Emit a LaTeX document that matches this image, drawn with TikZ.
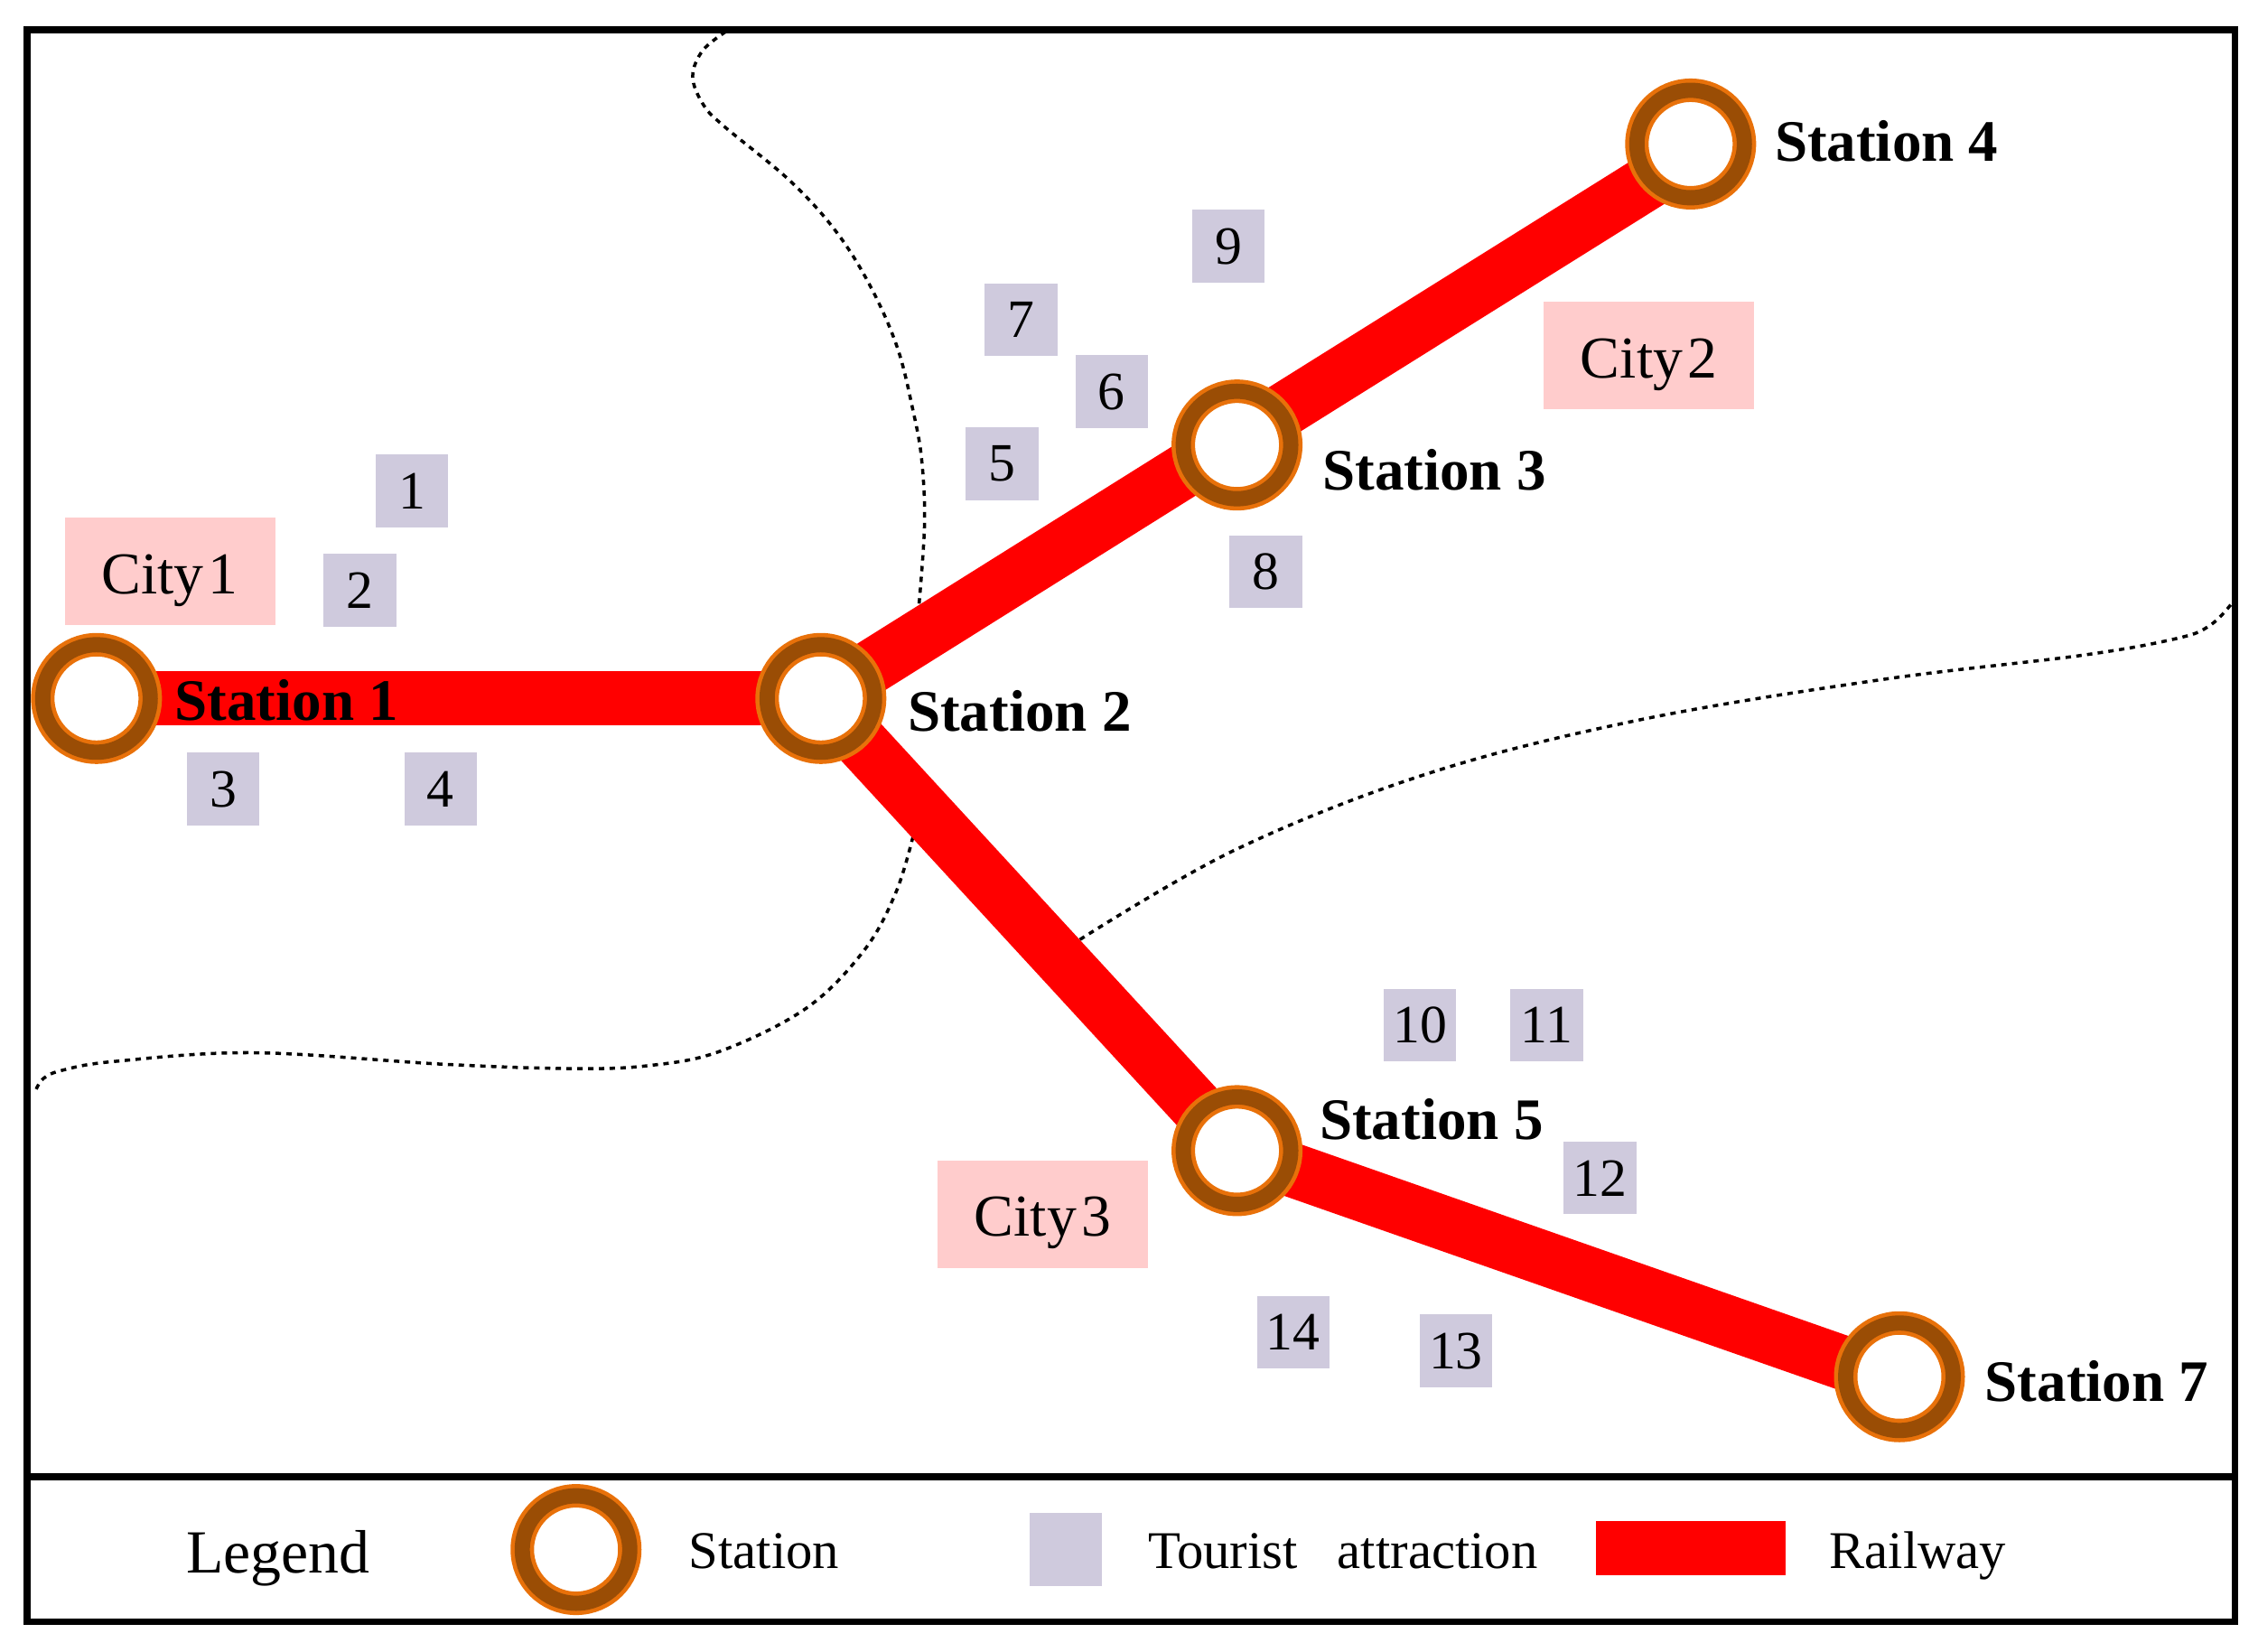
\documentclass[tikz,border=0pt]{standalone}
\usepackage{fontspec}
\setmainfont{Liberation Serif}
\usetikzlibrary{positioning, backgrounds}
\definecolor{ringbrown}{HTML}{9A4D05}
\definecolor{ringedge}{HTML}{E8710A}
\definecolor{attrfill}{HTML}{CFCADD}
\definecolor{citybg}{HTML}{FFCCCC}
\newcommand{\cityfont}{\fontsize{18.7}{20}\selectfont\spaceskip=1.5pt\relax}

\begin{document}
\begin{tikzpicture}[
  x=0.015944cm, y=-0.015944cm,
  ring/.style={circle, draw=ringedge, line width=1.3pt, double=ringbrown, double distance=4.8pt, fill=white, minimum size=1.19cm, inner sep=0pt},
  attr/.style={fill=attrfill, minimum size=0.805cm, inner sep=0pt, font=\fontsize{17}{17}\selectfont},
  city/.style={fill=citybg, minimum width=2.33cm, minimum height=1.19cm, inner sep=0pt, text height=14pt, text depth=0pt, font=\cityfont},
  stn/.style={anchor=west, inner sep=0pt, font=\fontsize{18.5}{20}\selectfont\bfseries},
  leg/.style={anchor=base west, inner sep=0pt, font=\fontsize{16.7}{18}\selectfont},
  rail/.style={draw=red, line width=0.6cm},
  bound/.style={line width=1pt, dash pattern=on 1.7pt off 1.7pt}
]
\useasboundingbox (0,0) rectangle (1568,1147);

% Stations
\node[ring] (s1) at (67,485) {};
\node[ring] (s2) at (570,485) {};
\node[ring] (s3) at (859,309) {};
\node[ring] (s4) at (1174,100) {};
\node[ring] (s5) at (859,799) {};
\node[ring] (s7) at (1319,956) {};

% Boundaries and railway
\begin{scope}[on background layer]
\draw[bound] plot[smooth, tension=0.6] coordinates {(504,22) (488,35) (481,53) (488,72) (502,87) (548,125) (580,160) (604,198) (623,241) (634,285) (640,319) (642,364) (638,422)};
\draw[bound] plot[smooth, tension=0.6] coordinates {(634,581) (622,620) (600,660) (560,700) (500,730) (450,740) (396,742) (308,739) (176,731) (80,737) (44,743) (30,749) (24,759)};
\draw[bound] plot[smooth, tension=0.6] coordinates {(1549,420) (1535,434) (1513,443) (1446,455) (1306,472) (1138,500) (992,537) (858,590) (749,653)};
\draw[rail] (s1.center) -- (s2.center);
\draw[rail] (s2.center) -- ([yshift=0.08cm]s3.center);
\draw[rail] ([yshift=0.064cm]s3.center) -- ([yshift=-0.128cm]s4.center);
\draw[rail] (s2.center) -- (s5.center);
\draw[rail] (s5.center) -- ([yshift=-0.064cm]s7.center);
\end{scope}

% Labels
\node[stn] (l1) at (121,486) {Station 1};
\node[stn] (l2) at (630,494) {Station 2};
\node[stn] (l3) at (918,326) {Station 3};
\node[stn] (l4) at (1232,98) {Station 4};
\node[stn] (l5) at (916,777) {Station 5};
\node[stn] (l7) at (1378,959) {Station 7};

% Cities
\node[city] (c1) at (118,397) {City 1};
\node[city] (c2) at (1145,247) {City 2};
\node[city] (c3) at (724,843) {City 3};

% Tourist attractions
\foreach \n/\x/\y in {1/286/341, 2/250/410, 3/155/548, 4/306/548, 5/696/322, 6/772/272, 7/709/222, 8/879/397, 9/853/171, 10/986/712, 11/1074/712, 12/1111/818, 13/1011/938, 14/898/925}
  \node[attr] (a\n) at (\x,\y) {\n};

% Frame and legend
\draw[line width=0.75mm] (18.7,20.7) rectangle (1552,1126);
\draw[line width=0.75mm] (18.7,1025.5) -- (1552,1025.5);
\node[anchor=base west, inner sep=0pt, font=\fontsize{19.3}{20}\selectfont] (legend) at (129,1092) {Legend};
\node[ring] (lring) at (400,1076) {};
\node[leg] (lstation) at (478,1089) {Station};
\node[attr] (lattr) at (740,1076) {};
\node[leg] (lattrtext) at (797,1089) {Tourist\ \ \ attraction};
\node[fill=red, minimum width=2.1cm, minimum height=0.6cm, inner sep=0pt] (lrail) at (1174,1075) {};
\node[leg] (lrailtext) at (1270,1089) {Railway};
\end{tikzpicture}
\end{document}
